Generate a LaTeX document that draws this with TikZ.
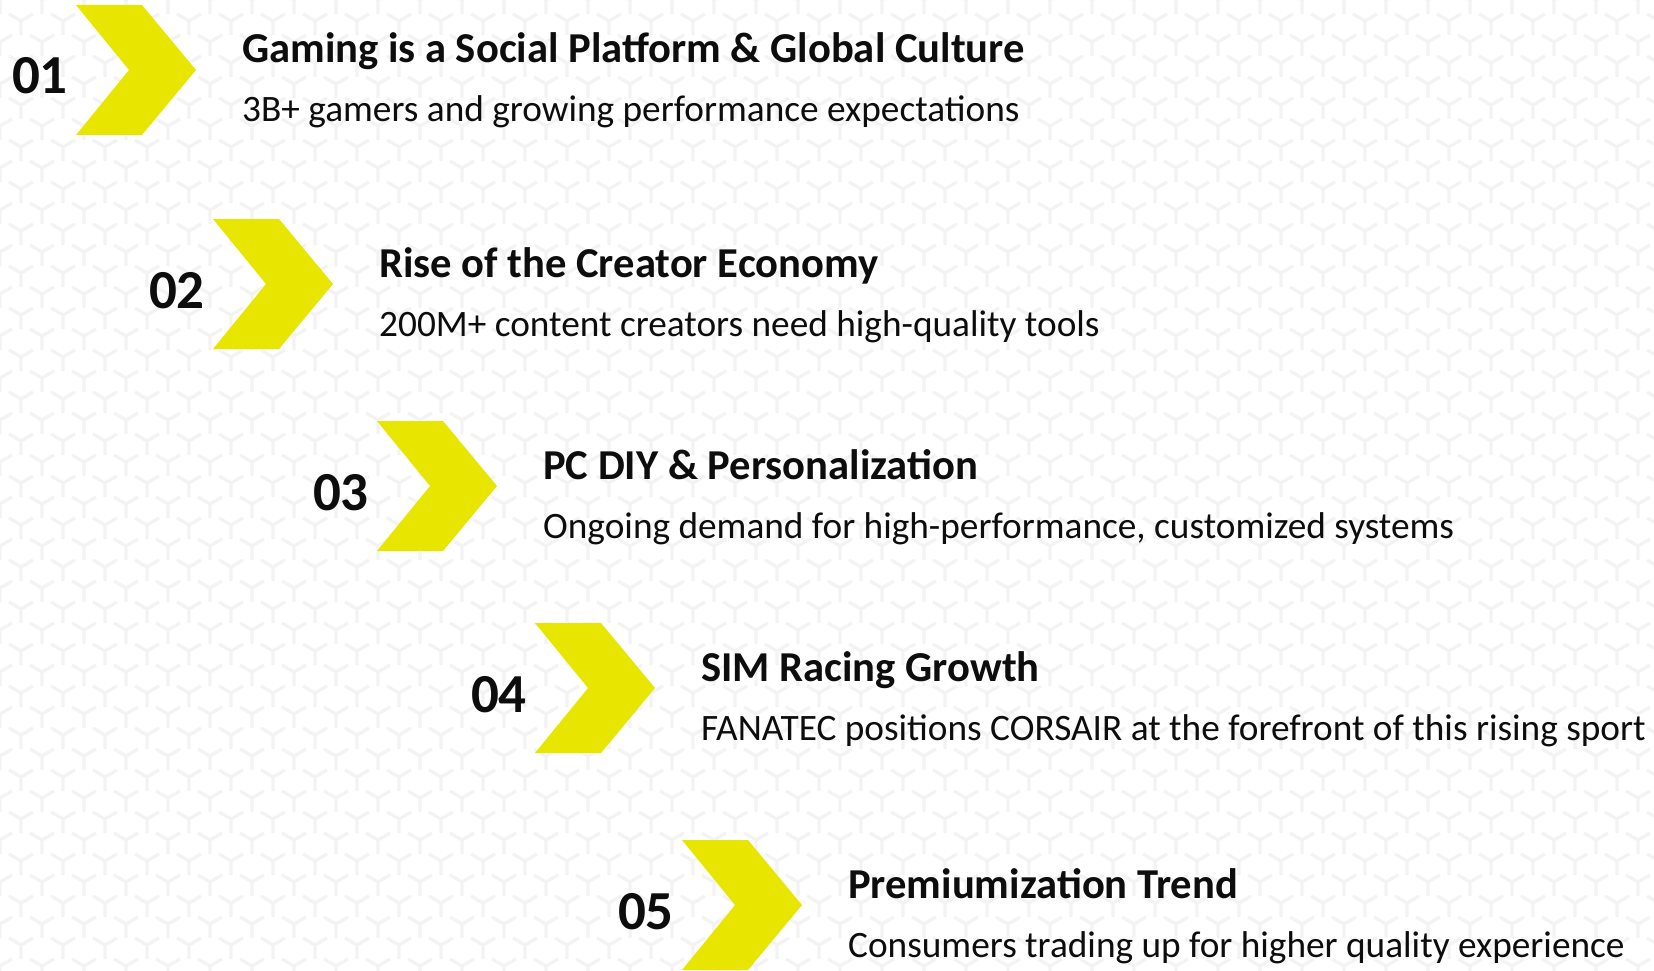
\documentclass[tikz,border=0pt]{standalone}
\usepackage{fontspec}
\setmainfont{Carlito}
\definecolor{chev}{HTML}{E8E600}
\definecolor{ink}{HTML}{0D0D0D}
\definecolor{bg}{HTML}{FFFFFF}
\definecolor{patt}{HTML}{F3F3F3}
\tikzset{
  chevfill/.style={fill=chev},
  pattline/.style={draw=patt, line width=3.2pt, line cap=butt},
  numtext/.style={inner sep=0pt, anchor=base east, text=ink, font=\fontsize{55}{60}\selectfont\bfseries},
  titletext/.style={inner sep=0pt, anchor=base west, text=ink, font=\fontsize{42.6}{46}\selectfont\bfseries},
  subtext/.style={inner sep=0pt, anchor=base west, text=ink, font=\fontsize{37.3}{42}\selectfont}
}
\begin{document}
\begin{tikzpicture}[x=1pt,y=-1pt]
\useasboundingbox (0,0) rectangle (1654,971);
\fill[bg] (0,0) rectangle (1654,971);
\begin{scope}
\clip (0,0) rectangle (1654,971);
\foreach \r in {0,...,47}{
  \draw[pattline] \foreach \c in {0,...,40}{
    ({42*\c+21*mod(\r,2)},{21*\r}) -- ++(0,14)
    ({42*\c+21*mod(\r,2)},{21*\r}) -- ++(-12,-7)
    ({42*\c+21*mod(\r,2)},{21*\r}) -- ++(12,-7)
  };
}
\end{scope}
\foreach \i/\cx/\cy/\num/\ttl/\sub in {
  1/76/5/01/{Gaming is a Social Platform \& Global Culture}/{3B+ gamers and growing performance expectations},
  2/213/219/02/{Rise of the Creator Economy}/{200M+ content creators need high-quality tools},
  3/377/421/03/{PC DIY \& Personalization}/{Ongoing demand for high-performance, customized systems},
  4/535/623/04/{SIM Racing Growth}/{FANATEC positions CORSAIR at the forefront of this rising sport},
  5/682/840/05/{Premiumization Trend}/{Consumers trading up for higher quality experience}}{
  \fill[chevfill] (\cx,\cy) -- ++(66,0) -- ++(54,65) -- ++(-54,65) -- ++(-66,0) -- ++(53,-65) -- cycle;
  \node[numtext] (num\i) at (\cx-8,\cy+89) {\num};
  \node[titletext] (title\i) at (\cx+166,\cy+58) {\ttl};
  \node[subtext] (sub\i) at (\cx+166,\cy+117) {\sub};
}
\end{tikzpicture}
\end{document}
